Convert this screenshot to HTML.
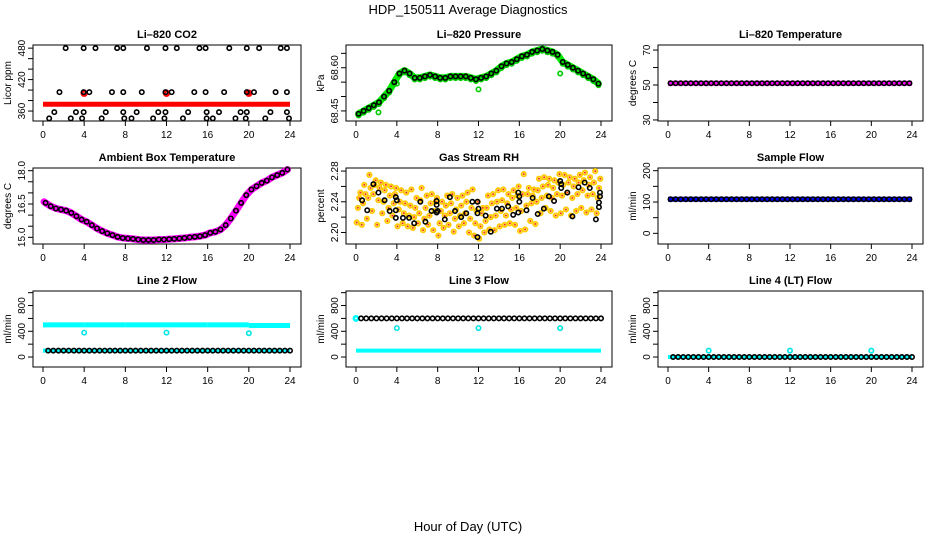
<!DOCTYPE html>
<html><head><meta charset="utf-8"><style>
html,body{margin:0;padding:0;background:#fff;}
svg{display:block;font-family:"Liberation Sans",sans-serif;}
</style></head><body>
<svg id="chart" width="936" height="540" viewBox="0 0 936 540" xmlns="http://www.w3.org/2000/svg">
<text x="468" y="14" text-anchor="middle" font-size="13">HDP_150511  Average Diagnostics</text>
<text x="468" y="531" text-anchor="middle" font-size="13">Hour of Day (UTC)</text>
</svg>
<script>
// ---- data ----
const xTicks = [0,4,8,12,16,20,24];
const co2T480 = [2.2,3.95,5.1,7.2,7.8,10.1,11.9,13.0,15.2,15.8,18.1,19.8,21.0,23.1,23.7];
const co2T396 = [1.6,3.95,4.5,6.7,7.8,9.6,11.9,12.5,14.7,15.8,17.6,19.8,20.5,22.6,23.7];
const co2T358 = [1.1,3.2,3.95,6.1,7.8,9.1,11.2,11.9,14.1,15.9,17.1,19.2,19.8,22.1,23.7];
const co2T346 = [0.6,2.7,3.8,5.7,7.9,8.6,10.7,11.8,13.6,15.9,16.5,18.7,19.7,21.6,23.9];
const co2Red = 373;
const co2RedOutT = [4,12,20];
const co2RedOutV = [394,394,394];
const pressure = [68.44,68.45,68.46,68.47,68.48,68.50,68.52,68.55,68.58,68.59,68.58,68.565,68.565,68.57,68.575,68.57,68.565,68.565,68.57,68.57,68.57,68.57,68.565,68.56,68.565,68.57,68.58,68.59,68.605,68.615,68.62,68.63,68.64,68.645,68.655,68.66,68.665,68.66,68.655,68.645,68.62,68.61,68.60,68.59,68.58,68.57,68.56,68.545];
const pressOutT = [4.0,12.0,20.0,2.2];
const pressOutV = [68.545,68.525,68.58,68.445];
const ambient = [16.55,16.4,16.3,16.25,16.2,16.1,15.95,15.8,15.7,15.55,15.4,15.28,15.18,15.1,15.02,14.97,14.95,14.93,14.9,14.88,14.88,14.88,14.9,14.9,14.92,14.93,14.95,14.97,15.0,15.02,15.05,15.1,15.2,15.25,15.35,15.55,15.85,16.2,16.55,16.9,17.15,17.3,17.45,17.55,17.7,17.8,17.9,18.05];
const rhBlackT = [0.6,1.1,1.7,2.2,2.8,3.3,3.9,4.0,3.9,3.9,4.6,5.2,5.7,6.3,6.8,7.4,7.9,7.9,7.9,8.0,8.7,9.2,9.7,10.3,10.8,11.4,11.9,11.9,11.9,12.0,12.7,13.2,13.8,14.3,14.9,15.4,15.9,16.0,16.0,15.9,16.7,17.3,17.8,18.4,18.9,19.4,20.0,20.1,20.1,20.7,21.2,21.8,22.4,22.9,23.5,23.9,23.9,23.8,23.8];
const rhBlackV = [2.242,2.229,2.263,2.252,2.242,2.228,2.246,2.242,2.229,2.219,2.219,2.219,2.212,2.240,2.214,2.228,2.241,2.236,2.226,2.228,2.217,2.246,2.228,2.220,2.225,2.240,2.240,2.225,2.194,2.231,2.222,2.201,2.231,2.231,2.234,2.223,2.252,2.247,2.240,2.226,2.229,2.245,2.224,2.231,2.247,2.241,2.267,2.263,2.258,2.252,2.221,2.259,2.265,2.258,2.217,2.252,2.247,2.239,2.233];
const rhYellow = [
[2.213,2.232,2.245,2.252],[2.210,2.238,2.262,2.250],[2.218,2.245,2.275,2.258],[2.228,2.250,2.262,2.268],
[2.210,2.242,2.258,2.265],[2.225,2.240,2.255,2.262],[2.215,2.232,2.248,2.260],[2.222,2.238,2.250,2.258],
[2.208,2.230,2.240,2.255],[2.212,2.225,2.238,2.252],[2.208,2.222,2.235,2.256],[2.206,2.220,2.232,2.245],
[2.212,2.225,2.242,2.258],[2.203,2.218,2.232,2.248],[2.210,2.222,2.238,2.250],[2.203,2.228,2.240,2.245],
[2.196,2.212,2.228,2.240],[2.206,2.222,2.235,2.248],[2.210,2.225,2.238,2.250],[2.201,2.218,2.230,2.245],
[2.208,2.222,2.235,2.248],[2.212,2.225,2.240,2.252],[2.200,2.218,2.232,2.256],[2.196,2.212,2.228,2.240],
[2.192,2.208,2.225,2.232],[2.200,2.215,2.232,2.248],[2.204,2.220,2.238,2.250],[2.203,2.222,2.240,2.255],
[2.208,2.228,2.242,2.256],[2.210,2.222,2.238,2.250],[2.212,2.230,2.245,2.255],[2.210,2.232,2.248,2.260],
[2.202,2.228,2.250,2.276],[2.204,2.235,2.250,2.258],[2.215,2.238,2.248,2.256],[2.211,2.240,2.255,2.270],
[2.225,2.245,2.260,2.272],[2.232,2.248,2.262,2.270],[2.228,2.245,2.258,2.268],[2.222,2.250,2.265,2.276],
[2.225,2.248,2.262,2.275],[2.230,2.252,2.265,2.272],[2.222,2.245,2.260,2.270],[2.228,2.250,2.265,2.275],
[2.232,2.255,2.268,2.278],[2.226,2.248,2.262,2.272],[2.230,2.250,2.265,2.280],[2.225,2.245,2.258,2.270]];
const tempValue = 51;
const sampleFlowValue = 109;
const line2High = [500,500,500,500,500,490];
const line2HighT = [0,4,8,12,16,20];
const line2Low = 100;
const line2OutT = [4,12,20];
const line2OutV = [380,380,370];
const line3Black = 600;
const line3Cyan = 100;
const line3OutT = [4,12,20];
const line3OutV = [450,450,450];
const line4Black = 0;
const line4OutT = [4,12,20];
const line4OutV = [100,100,100];

// ---- layout ----
const svg = document.getElementById('chart');
const NS = 'http://www.w3.org/2000/svg';
const colL = [33,346,658], colR = [301,612,923];
const rowT = [45,168,291], rowB = [121,244,367];
const halfHours = []; for (let i=0;i<48;i++) halfHours.push(0.25+0.5*i);

function mk(tag, attrs, parent){
  const e = document.createElementNS(NS, tag);
  for (const k in attrs) e.setAttribute(k, attrs[k]);
  (parent||svg).appendChild(e);
  return e;
}

function panel(col,row,name,title,ylab,ymin,ymax,ticks,labels){
  const L=colL[col],R=colR[col],T=rowT[row],B=rowB[row];
  const g = mk('g',{});
  
  
  const x0=L+10, x1=R-11;
  const sx = t => x0 + (t/24)*(x1-x0);
  const sy = v => B - (v-ymin)/(ymax-ymin)*(B-T);
  const tt = mk('text',{x:(L+R)/2,y:T-7,'text-anchor':'middle','font-size':11,'font-weight':'bold'},g);
  tt.textContent = title;
  
  
  const yl = mk('text',{x:0,y:0,'text-anchor':'middle','font-size':10,transform:`translate(${L-22},${(T+B)/2}) rotate(-90)`},g);
  yl.textContent = ylab;
  
  
  const box = mk('rect',{x:L,y:T,width:R-L,height:B-T,fill:'none',stroke:'#000','stroke-width':1},g);
  
  
  const xa = mk('g',{},g);
  
  
  mk('line',{x1:sx(0),x2:sx(24),y1:B,y2:B,stroke:'#000'},xa);
  xTicks.forEach(t=>{
    mk('line',{x1:sx(t),x2:sx(t),y1:B,y2:B+5,stroke:'#000'},xa);
    const lt = mk('text',{x:sx(t),y:B+17,'text-anchor':'middle','font-size':10},xa); lt.textContent=t;
  });
  const ya = mk('g',{},g);
  
  
  mk('line',{x1:L,x2:L,y1:sy(ticks[0]),y2:sy(ticks[ticks.length-1]),stroke:'#000'},ya);
  ticks.forEach(v=>{ mk('line',{x1:L,x2:L-5,y1:sy(v),y2:sy(v),stroke:'#000'},ya); });
  labels.forEach(lb=>{
    const t = mk('text',{x:0,y:0,'text-anchor':'middle','font-size':10,transform:`translate(${L-8},${sy(lb[0])}) rotate(-90)`},ya);
    t.textContent = lb[1];
  });
  const marks = mk('g',{},g);
  
  
  return {sx,sy,g:marks};
}
function circ(p,t,v,color,r,w){
  const c = mk('circle',{cx:p.sx(t),cy:p.sy(v),r:r||2.2,fill:'none',stroke:color,'stroke-width':w||1.6},p.g);
  
  
  return c;
}
function band(p,t0,t1,v,color,w){
  const l = mk('line',{x1:p.sx(t0),x2:p.sx(t1),y1:p.sy(v),y2:p.sy(v),stroke:color,'stroke-width':w||6},p.g);
  
  
}
function pathOf(p,ts,vs,color,w){
  const d = ts.map((t,i)=>(i?'L':'M')+p.sx(t).toFixed(1)+','+p.sy(vs[i]).toFixed(1)).join('');
  const e = mk('path',{d:d,fill:'none',stroke:color,'stroke-width':w,'stroke-linejoin':'round','stroke-linecap':'round'},p.g);
  
  
}

// CO2
let p = panel(0,0,'co2','Li\u2013820 CO2','Licor ppm',341,486,[360,380,400,420,440,460,480],[[360,'360'],[420,'420'],[480,'480']]);
band(p,0,24,co2Red,'#ff0000',5);
co2RedOutT.forEach((t,i)=>circ(p,t,co2RedOutV[i],'#ff0000',2.2,3));
co2T480.forEach(t=>circ(p,t,480,'#000'));
co2T396.forEach(t=>circ(p,t,396,'#000'));
co2T358.forEach(t=>circ(p,t,358,'#000'));
co2T346.forEach(t=>circ(p,t,346,'#000'));

// Pressure
p = panel(1,0,'pressure','Li\u2013820 Pressure','kPa',68.415,68.679,[68.45,68.50,68.55,68.60,68.65],[[68.45,'68.45'],[68.60,'68.60']]);
pathOf(p,halfHours,pressure,'#00ee00',7);
halfHours.forEach((t,i)=>circ(p,t,pressure[i]-0.006,'#00cc00'));
pressOutT.forEach((t,i)=>circ(p,t,pressOutV[i],'#00cc00'));
halfHours.forEach((t,i)=>circ(p,t,pressure[i],'#000'));

// Temperature
p = panel(2,0,'li820-temperature','Li\u2013820 Temperature','degrees C',29.4,72.9,[30,40,50,60,70],[[30,'30'],[50,'50'],[70,'70']]);
band(p,0,24,tempValue,'#ff00ff',5);
halfHours.forEach(t=>circ(p,t,tempValue,'#000'));

// Ambient
p = panel(0,1,'ambient-temperature','Ambient Box Temperature','degrees C',14.7,18.12,[15,15.5,16,16.5,17,17.5,18],[[15,'15.0'],[16.5,'16.5'],[18,'18.0']]);
pathOf(p,[0.1].concat(halfHours),[16.6].concat(ambient),'#ff00ff',7);
halfHours.forEach((t,i)=>circ(p,t,ambient[i],'#000'));

// RH
p = panel(1,1,'gas-stream-rh','Gas Stream RH','percent',2.185,2.284,[2.20,2.22,2.24,2.26,2.28],[[2.20,'2.20'],[2.24,'2.24'],[2.28,'2.28']]);
const offs=[-0.18,-0.06,0.06,0.18];
rhYellow.forEach((slot,i)=>slot.forEach((v,j)=>{
  circ(p,halfHours[i]+offs[j],v,'#ffcc00',2.2,1.8);
  const d = mk('circle',{cx:p.sx(halfHours[i]+offs[j]),cy:p.sy(v),r:1,fill:'#ff3300'},p.g);
  
  
}));
rhBlackT.forEach((t,i)=>circ(p,t,rhBlackV[i],'#000'));

// Sample flow
p = panel(2,1,'sample-flow','Sample Flow','ml/min',-34,208.6,[0,50,100,150,200],[[0,'0'],[100,'100'],[200,'200']]);
band(p,0,24,sampleFlowValue,'#0000ff',5);
halfHours.forEach(t=>circ(p,t,sampleFlowValue,'#000'));

// Line 2
const flowTicks=[0,200,400,600,800,1000], flowLabels=[[0,'0'],[400,'400'],[800,'800']];
p = panel(0,2,'line-2-flow','Line 2 Flow','ml/min',-155,1026,flowTicks,flowLabels);
line2HighT.forEach((t,i)=>band(p,t,Math.min(t+4,24),line2High[i],'#00ffff',5));
band(p,0,24,line2Low,'#00ffff',4);
line2OutT.forEach((t,i)=>circ(p,t,line2OutV[i],'#00e5e5'));
halfHours.forEach(t=>circ(p,t+0.25,line2Low,'#000'));

// Line 3
p = panel(1,2,'line-3-flow','Line 3 Flow','ml/min',-155,1026,flowTicks,flowLabels);
band(p,0,24,line3Cyan,'#00ffff',4);
circ(p,0,line3Black,'#00ffff',2.2,2.5);
line3OutT.forEach((t,i)=>circ(p,t,line3OutV[i],'#00e5e5'));
halfHours.forEach(t=>circ(p,t+0.25,line3Black,'#000'));

// Line 4
p = panel(2,2,'line-4-flow','Line 4 (LT) Flow','ml/min',-155,1026,flowTicks,flowLabels);
band(p,0,24,line4Black,'#00ffff',4);
line4OutT.forEach((t,i)=>circ(p,t,line4OutV[i],'#00e5e5'));
halfHours.forEach(t=>circ(p,t+0.25,line4Black,'#000'));
</script>
</body></html>
